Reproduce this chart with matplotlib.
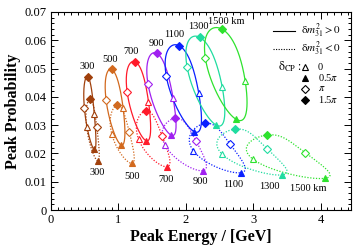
import numpy as np
import matplotlib
matplotlib.use('Agg')
import matplotlib.pyplot as plt
from matplotlib.ticker import MultipleLocator, FixedLocator
from matplotlib.lines import Line2D

plt.rcParams['font.family'] = ['Liberation Serif', 'DejaVu Serif']
plt.rcParams['mathtext.fontset'] = 'stix'

# ---------------- data ----------------
baselines = [300, 500, 700, 900, 1100, 1300, 1500]
colors = ['#a0400c', '#d2691e', '#ff1a2a', '#a020f0', '#0a20ff', '#20dca0', '#2ee22e']

# normal hierarchy (dm31^2 > 0): peak energy / probability at delta_CP = 0, 0.5pi, pi, 1.5pi
nh_E_0   = [0.643, 1.07, 1.446, 1.81, 2.19, 2.54, 2.88]
nh_P_0   = [0.0338, 0.0360, 0.0383, 0.0397, 0.0415, 0.0434, 0.0457]
nh_E_05  = [0.640, 1.04, 1.41, 1.78, 2.125, 2.45, 2.75]
nh_P_05  = [0.0214, 0.0230, 0.0245, 0.0265, 0.0277, 0.0300, 0.0320]
nh_E_1   = [0.495, 0.817, 1.13, 1.44, 1.71, 2.02, 2.29]
nh_P_1   = [0.0361, 0.0389, 0.0416, 0.0444, 0.0473, 0.0504, 0.0536]
nh_E_15  = [0.545, 0.90, 1.248, 1.57, 1.90, 2.21, 2.54]
nh_P_15  = [0.0471, 0.0497, 0.0524, 0.0554, 0.0581, 0.0610, 0.0639]

# inverted hierarchy (dm31^2 < 0)
ih_E_0   = [0.53, 0.90, 1.30, 1.69, 2.11, 2.54, 3.00]
ih_P_0   = [0.0292, 0.0270, 0.0250, 0.0230, 0.0210, 0.0197, 0.0179]
ih_E_05  = [0.694, 1.20, 1.72, 2.25, 2.82, 3.43, 4.06]
ih_P_05  = [0.0174, 0.0165, 0.0153, 0.0139, 0.0132, 0.0124, 0.0112]
ih_E_1   = [0.68, 1.16, 1.65, 2.15, 2.66, 3.21, 3.77]
ih_P_1   = [0.0292, 0.0277, 0.0261, 0.0245, 0.0232, 0.0216, 0.0203]
ih_E_15  = [0.58, 0.985, 1.407, 1.84, 2.28, 2.73, 3.20]
ih_P_15  = [0.0392, 0.0370, 0.0350, 0.0324, 0.0306, 0.0286, 0.0265]

top_labels = ['300', '500', '700', '900', '1100', '1300', '1500 km']
top_label_E = [0.54, 0.87, 1.19, 1.556, 1.83, 2.18, 2.60]
top_label_P = [0.0506, 0.0532, 0.0559, 0.0589, 0.0620, 0.0650, 0.0665]
bot_labels = ['300', '500', '700', '900', '1100', '1300', '1500 km']
bot_label_E = [0.69, 1.20, 1.71, 2.21, 2.71, 3.24, 3.82]
bot_label_P = [0.0132, 0.0120, 0.0108, 0.0100, 0.0091, 0.0082, 0.0077]

x_ticks = [0, 1, 2, 3, 4]
y_ticks = [0, 0.01, 0.02, 0.03, 0.04, 0.05, 0.06, 0.07]
y_ticklabels = ['0', '0.01', '0.02', '0.03', '0.04', '0.05', '0.06', '0.07']

legend_marker_labels = ['0', r'0.5$\pi$', r'$\pi$', r'1.5$\pi$']

# ---------------- figure ----------------
fig = plt.figure(figsize=(3.54, 2.49), dpi=100)
ax = fig.add_axes([51/354, 1-210/249, 300/354, 198/249])

delta = np.linspace(0, 2*np.pi, 361)

def closed_curve(v0, v1, v2, v3):
    a0 = (v0 + v1 + v2 + v3) / 4
    a1 = (v0 - v2) / 2
    b1 = (v1 - v3) / 2
    a2 = (v0 - v1 + v2 - v3) / 4
    return a0 + a1*np.cos(delta) + b1*np.sin(delta) + a2*np.cos(2*delta)

ms_t = 5.0
ms_d = 4.0
dotted = (0, (1, 1.3))
for i, c in enumerate(colors):
    for (E0, P0, E05, P05, E1, P1, E15, P15, ls) in [
            (nh_E_0, nh_P_0, nh_E_05, nh_P_05, nh_E_1, nh_P_1, nh_E_15, nh_P_15, '-'),
            (ih_E_0, ih_P_0, ih_E_05, ih_P_05, ih_E_1, ih_P_1, ih_E_15, ih_P_15, dotted)]:
        xc = closed_curve(E0[i], E05[i], E1[i], E15[i])
        yc = closed_curve(P0[i], P05[i], P1[i], P15[i])
        ax.plot(xc, yc, color=c, lw=0.9, ls=ls, zorder=2)
        ax.plot([E0[i]], [P0[i]], marker='^', ms=ms_t, mfc='white', mec=c, mew=0.8, ls='none', zorder=3)
        ax.plot([E05[i]], [P05[i]], marker='^', ms=ms_t, mfc=c, mec=c, mew=0.8, ls='none', zorder=3)
        ax.plot([E1[i]], [P1[i]], marker='D', ms=ms_d, mfc='white', mec=c, mew=0.8, ls='none', zorder=3)
        ax.plot([E15[i]], [P15[i]], marker='D', ms=ms_d, mfc=c, mec=c, mew=0.8, ls='none', zorder=3)

for t, x, y in zip(top_labels, top_label_E, top_label_P):
    ax.text(x, y, t, ha='center', va='center', fontsize=7.5)
for t, x, y in zip(bot_labels, bot_label_E, bot_label_P):
    ax.text(x, y, t, ha='center', va='center', fontsize=7.5)

ax.set_xlim(0, 4.45)
ax.set_ylim(0, 0.07)
ax.xaxis.set_major_locator(FixedLocator(x_ticks))
ax.set_xticklabels([str(v) for v in x_ticks])
ax.xaxis.set_minor_locator(MultipleLocator(0.1))
ax.yaxis.set_major_locator(FixedLocator(y_ticks))
ax.set_yticklabels(y_ticklabels)
ax.yaxis.set_minor_locator(MultipleLocator(0.002))
ax.tick_params(which='both', direction='in', top=True, right=True, labelsize=9, width=0.7)
ax.tick_params(which='major', length=5, pad=3)
ax.tick_params(which='minor', length=2.5)
for s in ax.spines.values():
    s.set_linewidth(0.8)

ax.set_xlabel('Peak Energy / [GeV]', fontsize=11.5, fontweight='bold', labelpad=2)
ax.set_ylabel('Peak Probability', fontsize=11.5, fontweight='bold', labelpad=3)

# ---------------- legend ----------------
tr = ax.transAxes
ax.add_line(Line2D([0.74, 0.813], [0.905, 0.905], color='black', lw=0.8, transform=tr))
ax.text(0.833, 0.905, r'$\mathrm{\delta}m^2_{31} > 0$', transform=tr, ha='left', va='center', fontsize=8)
ax.add_line(Line2D([0.74, 0.813], [0.815, 0.815], color='black', lw=0.8, ls=dotted, transform=tr))
ax.text(0.833, 0.815, r'$\mathrm{\delta}m^2_{31} < 0$', transform=tr, ha='left', va='center', fontsize=8)
ax.text(0.757, 0.722, r'$\mathrm{\delta}_{\mathrm{CP}}$ :', transform=tr, ha='left', va='center', fontsize=8.5)
leg_y = [0.722, 0.667, 0.612, 0.557]
leg_mk = [('^', 'white'), ('^', 'black'), ('D', 'white'), ('D', 'black')]
for y, t, (m, fc) in zip(leg_y, legend_marker_labels, leg_mk):
    ax.plot([0.847], [y], marker=m, ms=ms_t if m == '^' else ms_d, mfc=fc, mec='black', mew=0.8,
            transform=tr, ls='none')
    ax.text(0.89, y, t, transform=tr, ha='left', va='center', fontsize=7.5)

fig.savefig('out.png', dpi=100)
